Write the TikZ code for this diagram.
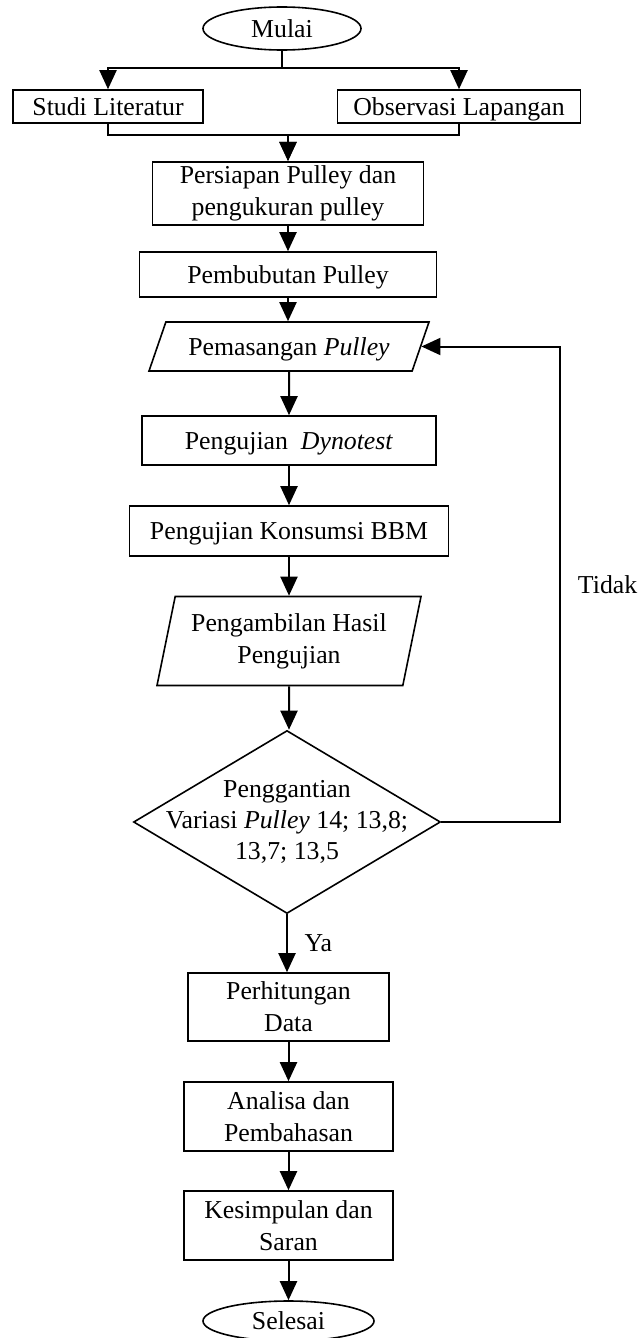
\documentclass[tikz,border=0pt]{standalone}
\usepackage{fontspec}
\setmainfont{Liberation Serif}
\usetikzlibrary{positioning, arrows.meta, shapes.geometric}

\begin{document}
\begin{tikzpicture}[
    x=0.5pt, y=0.5pt,
    font=\fontsize{12.9}{16}\selectfont,
    box/.style={draw, rectangle, line width=0.8pt, align=center, inner sep=2pt},
    io/.style={draw, trapezium, trapezium stretches body, line width=0.8pt, align=center, inner sep=2pt},
    term/.style={draw, ellipse, line width=0.8pt, inner sep=1pt},
    dec/.style={draw, diamond, line width=0.8pt},
    one/.style={text height=9.6pt, text depth=1pt},
    arr/.style={-{Triangle[length=9.5pt, width=8.5pt]}, line width=1pt}
]
    \useasboundingbox (0,0) rectangle (638,-1338);

    \node[term, one, minimum width=79pt, minimum height=21.5pt] (mulai) at (282,-28.5) {Mulai};
    \node[box, one, minimum width=95pt, minimum height=16.5pt] (studi) at (108,-106.5) {Studi Literatur};
    \node[box, one, minimum width=121.5pt, minimum height=16.5pt] (observasi) at (459,-106.5) {Observasi Lapangan};
    \node[box, minimum width=135.5pt, minimum height=30.5pt] (persiapan) at (288,-193.5) {Persiapan Pulley dan\\pengukuran pulley};
    \node[box, one, minimum width=148.5pt, minimum height=22.5pt] (bubut) at (288,-274.5) {Pembubutan Pulley};
    \node[io, one, trapezium left angle=60, trapezium right angle=120, minimum width=140pt, minimum height=24.5pt] (pasang) at (289,-346.5) {Pemasangan \textit{Pulley}};
    \node[box, one, minimum width=147pt, minimum height=24.5pt] (dyno) at (289,-440.5) {Pengujian\ \ \textit{Dynotest}};
    \node[box, one, minimum width=159.5pt, minimum height=25pt] (bbm) at (289,-531) {Pengujian Konsumsi BBM};
    \node[io, trapezium left angle=74, trapezium right angle=106, minimum width=132pt, minimum height=44.5pt] (hasil) at (289,-641) {Pengambilan Hasil\\Pengujian};
    \node[dec, minimum width=153.5pt, minimum height=91.5pt,
        label={[align=center, font=\fontsize{12.9}{15.5}\selectfont]center:Penggantian\\Variasi \textit{Pulley} 14; 13,8;\\13,7; 13,5}] (ganti) at (287,-822) {};
    \node[box, minimum width=100.5pt, minimum height=34pt] (hitung) at (288.5,-1007) {Perhitungan\\Data};
    \node[box, minimum width=104.5pt, minimum height=34.5pt] (analisa) at (288.5,-1116.5) {Analisa dan\\Pembahasan};
    \node[box, minimum width=104.5pt, minimum height=34.5pt] (simpul) at (288.5,-1225.5) {Kesimpulan dan\\Saran};
    \node[term, one, minimum width=85.5pt, minimum height=20pt] (selesai) at (288.5,-1321) {Selesai};

    % percabangan awal
    \draw[arr] (mulai.south) -- ++(0,-17) -| (studi.north);
    \draw[arr] (mulai.south) -- ++(0,-17) -| (observasi.north);
    \draw[arr] (studi.south) -- ++(0,-11) -| (persiapan.north);
    \draw[arr] (observasi.south) -- ++(0,-11) -| (persiapan.north);

    \draw[arr] (persiapan) -- (bubut);
    \draw[arr] (bubut) -- (bubut |- pasang.north);
    \draw[arr] (pasang) -- (pasang |- dyno.north);
    \draw[arr] (dyno) -- (bbm);
    \draw[arr] (bbm) -- (bbm |- hasil.north);
    \draw[arr] (hasil) -- (hasil |- ganti.north);
    \draw[arr] (ganti) -- node[right=5pt] (ya) {Ya} (ganti |- hitung.north);
    \draw[arr] (ganti.east) -- ++(119,0) |- node[right=5pt, pos=0.25] (tidak) {Tidak} (pasang.east);
    \draw[arr] (hitung) -- (analisa);
    \draw[arr] (analisa) -- (simpul);
    \draw[arr] (simpul) -- (selesai);
\end{tikzpicture}
\end{document}
